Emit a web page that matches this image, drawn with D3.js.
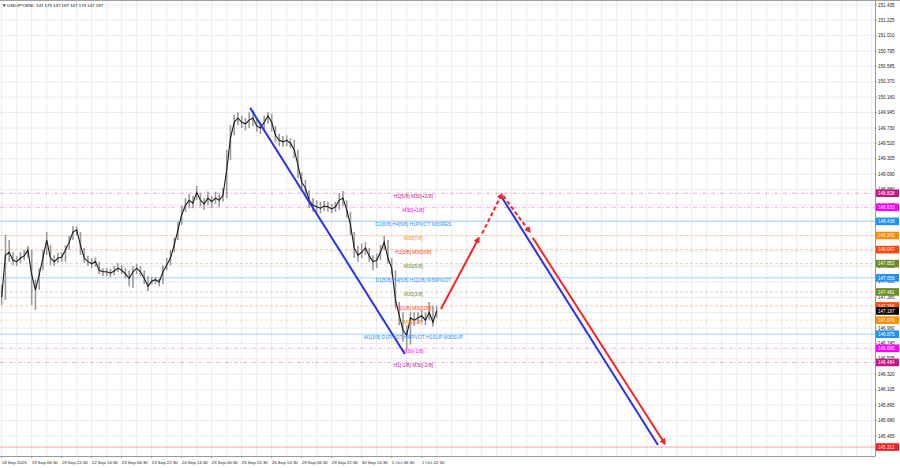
<!DOCTYPE html>
<html><head><meta charset="utf-8">
<script src="https://cdn.jsdelivr.net/npm/d3@7"></script>
<style>body{margin:0;background:#fff;overflow:hidden}svg{display:block;font-family:"Liberation Sans",Arial,sans-serif}</style>
</head><body><svg id="c" width="900" height="468"></svg>
<script>
// ---- data (USDJPY M30, sampled every 4 bars) ----
const barsPerSample = 4;
const closes = [147.39,147.97,148.01,147.90,147.88,147.93,147.96,148.04,147.70,147.49,147.70,147.93,148.18,147.93,147.88,147.93,147.94,148.04,148.15,148.29,148.32,148.11,147.93,147.88,147.85,147.88,147.76,147.74,147.74,147.72,147.75,147.79,147.76,147.71,147.65,147.74,147.79,147.74,147.65,147.54,147.61,147.63,147.60,147.74,147.83,147.93,148.11,148.32,148.53,148.66,148.73,148.69,148.84,148.73,148.68,148.76,148.71,148.76,148.73,148.80,149.15,149.59,149.81,149.87,149.81,149.79,149.84,149.87,149.76,149.73,149.81,149.90,149.81,149.63,149.56,149.54,149.56,149.52,149.43,149.22,148.98,148.90,148.73,148.66,148.64,148.62,148.65,148.64,148.61,148.64,148.73,148.76,148.60,148.39,148.07,147.97,148.01,148.07,147.96,147.88,147.90,148.01,148.15,147.93,147.79,147.35,147.14,146.93,146.86,147.10,147.07,147.10,147.13,147.07,147.18,147.04,147.197];
const highs = [147.56,148.25,148.18,148.01,147.96,148.01,148.04,148.10,148.04,147.63,147.79,148.04,148.29,148.11,147.97,148.00,148.01,148.11,148.24,148.37,148.37,148.29,148.07,147.96,147.93,147.94,147.88,147.79,147.79,147.78,147.82,147.86,147.83,147.79,147.76,147.82,147.85,147.82,147.76,147.68,147.67,147.67,147.65,147.83,147.93,148.04,148.21,148.43,148.66,148.76,148.82,148.79,148.93,148.83,148.76,148.85,148.79,148.85,148.82,148.90,149.43,149.77,149.91,149.95,149.90,149.87,149.95,149.98,149.87,149.81,149.90,149.95,149.93,149.76,149.65,149.62,149.63,149.59,149.57,149.43,149.12,149.01,148.87,148.76,148.73,148.71,148.72,148.71,148.68,148.71,148.83,148.86,148.73,148.57,148.29,148.10,148.13,148.15,148.07,147.97,147.99,148.11,148.24,148.18,147.93,147.76,147.32,147.18,147.00,147.18,147.18,147.18,147.21,147.18,147.32,147.27,147.27];
const lows = [147.28,147.35,147.88,147.83,147.82,147.86,147.90,147.93,147.28,147.21,147.49,147.76,147.97,147.83,147.82,147.86,147.88,147.88,148.04,148.18,148.24,147.97,147.86,147.82,147.79,147.81,147.71,147.68,147.68,147.67,147.69,147.74,147.71,147.65,147.54,147.52,147.71,147.68,147.57,147.47,147.56,147.57,147.54,147.57,147.76,147.83,148.01,148.18,148.39,148.57,148.62,148.62,148.73,148.65,148.60,148.66,148.62,148.68,148.64,148.71,148.76,149.29,149.63,149.77,149.73,149.70,149.73,149.76,149.68,149.65,149.70,149.79,149.68,149.54,149.48,149.47,149.48,149.45,149.32,149.04,148.87,148.79,148.62,148.57,148.57,148.55,148.58,148.57,148.55,148.57,148.60,148.65,148.49,148.25,147.93,147.88,147.93,147.97,147.88,147.76,147.79,147.90,148.04,147.85,147.70,147.24,147.00,146.77,146.66,146.73,146.99,147.02,147.04,147.00,147.07,146.98,147.10];

const dateLabels = ["18 Sep 2025","19 Sep 06:30","19 Sep 22:30","22 Sep 14:30","23 Sep 06:30","23 Sep 22:30","24 Sep 14:30","25 Sep 06:30","25 Sep 22:30","26 Sep 14:30","29 Sep 06:30","29 Sep 22:30","30 Sep 14:30","1 Oct 06:30","1 Oct 22:30"];
const barsPerDateLabel = 32;
const barsPerGrid = 16;
const priceTickLabels = ["151.435","151.225","151.010","150.795","150.585","150.370","150.160","149.945","149.730","149.520","149.305","149.090","148.880","148.665","148.455","148.240","148.025","147.815","147.600","147.385","147.175","146.960","146.745","146.535","146.320","146.105","145.895","145.680","145.465"];

const levelPrices = [148.828,148.633,148.438,148.242,148.047,147.852,147.656,147.461,147.266,147.070,146.875,146.680,146.484];
const levelNames = ["H1[5/8] M30[+2/8]","M30[+1/8]","D1[6/8] H4[6/8] H1PIVOT M30RES","M30[7/8]","H1[3/8] M30[6/8]","M30[5/8]","D1[5/8] H4[5/8] H1[2/8] M30PIVOT","M30[3/8]","H1[1/8] M30[2/8]","M30[1/8]","W1[3/8] D1PIVOT H4PIVOT H1SUP M30SUP","M30[-1/8]","H1[-1/8] M30[-2/8]"];
const levelKinds = ["ext","ext2","pivot","o","or","ol","pivot","ol","or","o","pivot","ext2","ext"];
const targetPrice = 145.312;
const currentPrice = 147.197;
const titleText = "USDJPY,M30  147.175 147.197 147.173 147.197";

// annotation segments: [barIndex, price]
const blueTrend1 = [[265,150.01],[430,146.60]];
const blueTrend2 = [[532.5,148.79],[700,145.34]];
const redUp = [[468.5,147.225],[509,148.21]];
const redUpDashed = [[512.5,148.27],[533.5,148.82]];
const redDownDashed = [[535,148.79],[563.5,148.29]];
const redDown = [[566.5,148.21],[707.5,145.355]];

// ---- styles ----
const kindColor = {ext:"#c71585",ext2:"#ff00ff",pivot:"#1e90ff",o:"#ff8c00",or:"#ff4500",ol:"#6b8e23"};
const kindDash = {ext:"4,2,1,2",ext2:"4,2,1,2",pivot:null,o:"3,2",or:"3,2",ol:"3,2"};
const kindOpacity = {ext:0.35,ext2:0.35,pivot:0.4,o:0.3,or:0.3,ol:0.3};

const svg = d3.select("#c");
const plotRight = 875, plotBottom = 456;
const x = d3.scaleLinear().domain([0,930]).range([1.7,1.7+930*0.9375]);
const y = d3.scaleLinear().domain([145.202,151.504]).range([455,0]);

// grid
const gGrid = svg.append("g");
const vb = d3.range(0, 930, barsPerGrid);
gGrid.selectAll("line.v").data(vb).enter().append("line")
  .attr("x1",d=>x(d)).attr("x2",d=>x(d)).attr("y1",0).attr("y2",plotBottom)
  .attr("stroke","#ececec").attr("stroke-width",1);
gGrid.selectAll("line.h").data(priceTickLabels.map(Number)).enter().append("line")
  .attr("x1",0).attr("x2",plotRight).attr("y1",d=>y(d)).attr("y2",d=>y(d))
  .attr("stroke","#ececec").attr("stroke-width",1);

// level lines
const gLev = svg.append("g");
levelPrices.forEach((p,i)=>{
  const k = levelKinds[i];
  gLev.append("line").attr("x1",0).attr("x2",plotRight).attr("y1",y(p)).attr("y2",y(p))
    .attr("stroke",kindColor[k]).attr("stroke-opacity",kindOpacity[k]).attr("stroke-width",1)
    .attr("stroke-dasharray",kindDash[k]);
});
gLev.append("line").attr("x1",0).attr("x2",plotRight).attr("y1",y(targetPrice)).attr("y2",y(targetPrice))
  .attr("stroke","#ff3030").attr("stroke-opacity",0.45).attr("stroke-width",1);

// candles (sampled)
const gC = svg.append("g");
closes.forEach((c,i)=>{
  gC.append("line").attr("x1",x(i*barsPerSample)).attr("x2",x(i*barsPerSample))
    .attr("y1",y(highs[i])).attr("y2",y(lows[i])).attr("stroke","#9a9a9a").attr("stroke-width",1.6);
});
const line = d3.line().x((d,i)=>x(i*barsPerSample)).y(d=>y(d)).curve(d3.curveLinear);
gC.append("path").datum(closes).attr("d",line).attr("fill","none").attr("stroke","#1a1a1a").attr("stroke-width",1.1);

// arrow markers
const defs = svg.append("defs");
defs.append("marker").attr("id","ah").attr("viewBox","0 0 10 10").attr("refX",8).attr("refY",5)
  .attr("markerWidth",3.2).attr("markerHeight",3.2).attr("orient","auto")
  .append("path").attr("d","M0,0 L10,5 L0,10 Z").attr("fill","#ff2222");

const seg = (pts,color,dash,arrow)=>{
  svg.append("line").attr("x1",x(pts[0][0])).attr("y1",y(pts[0][1]))
    .attr("x2",x(pts[1][0])).attr("y2",y(pts[1][1]))
    .attr("stroke",color).attr("stroke-width",2).attr("stroke-dasharray",dash)
    .attr("marker-end",arrow?"url(#ah)":null);
};
seg(blueTrend1,"#2433f0",null,false);
seg(blueTrend2,"#2433f0",null,false);
seg(redUp,"#ff2222",null,true);
seg(redUpDashed,"#ff2222","4,2.5",true);
seg(redDownDashed,"#ff2222","4,2.5",true);
seg(redDown,"#ff2222",null,true);

// level texts
const gT = svg.append("g");
levelPrices.forEach((p,i)=>{
  gT.append("text").attr("x",x(439)).attr("y",y(p)+4.3).attr("text-anchor","middle")
    .attr("font-size",4.9).attr("fill",kindColor[levelKinds[i]]).text(levelNames[i]);
});

// axes lines
svg.append("line").attr("x1",plotRight+0.5).attr("x2",plotRight+0.5).attr("y1",0).attr("y2",plotBottom).attr("stroke","#9a9a9a");
svg.append("line").attr("x1",0).attr("x2",plotRight+0.5).attr("y1",plotBottom+0.5).attr("y2",plotBottom+0.5).attr("stroke","#9a9a9a");
svg.append("line").attr("x1",0).attr("x2",900).attr("y1",0.5).attr("y2",0.5).attr("stroke","#a0a0a0");

// price tick labels
const gY = svg.append("g");
priceTickLabels.forEach(t=>{
  const v = Number(t);
  gY.append("line").attr("x1",plotRight).attr("x2",plotRight+2).attr("y1",y(v)).attr("y2",y(v)).attr("stroke","#9a9a9a");
  gY.append("text").attr("x",878).attr("y",y(v)+1.6).attr("font-size",4.6).attr("fill","#222").text(t);
});

// level price boxes
const box = (p,color)=>{
  gY.append("rect").attr("x",876).attr("y",y(p)-3.8).attr("width",23).attr("height",7.6).attr("fill",color);
  gY.append("text").attr("x",878).attr("y",y(p)+1.7).attr("font-size",4.6).attr("fill","#fff").text(p.toFixed(3));
};
levelPrices.forEach((p,i)=>box(p,kindColor[levelKinds[i]]));
box(currentPrice,"#000");
box(targetPrice,"#ff1a1a");

// date labels
const gX = svg.append("g");
dateLabels.forEach((t,i)=>{
  const xb = x(i*barsPerDateLabel);
  gX.append("line").attr("x1",xb).attr("x2",xb).attr("y1",plotBottom).attr("y2",plotBottom+2).attr("stroke","#9a9a9a");
  gX.append("text").attr("x",xb).attr("y",464).attr("font-size",4.4).attr("fill","#222").text(t);
});

// title
svg.append("text").attr("x",2).attr("y",6.5).attr("font-size",4.4).attr("fill","#111").text("\u25BC");
svg.append("text").attr("x",7).attr("y",6.5).attr("font-size",4.4).attr("fill","#111").attr("xml:space","preserve").text(titleText);
</script></body></html>
